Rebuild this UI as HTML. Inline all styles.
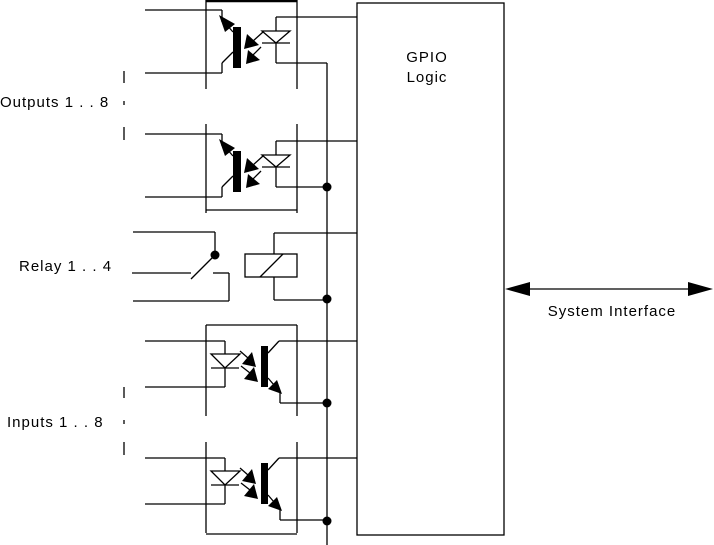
<!DOCTYPE html>
<html><head><meta charset="utf-8"><style>
html,body{margin:0;padding:0;background:#fff;}
svg{display:block;}
text{font-family:"Liberation Sans",Arial,sans-serif;font-size:15px;letter-spacing:1px;fill:#000;}
</style></head><body>
<svg width="714" height="545" viewBox="0 0 714 545" xmlns="http://www.w3.org/2000/svg">
<defs>
<g id="outp" fill="none" stroke="#000" stroke-width="1.3">
  <line x1="145" y1="10" x2="222" y2="10"/>
  <line x1="222" y1="10" x2="222" y2="22"/>
  <line x1="226" y1="24" x2="233" y2="32"/>
  <polygon points="219,15 235,24 225,32" fill="#000" stroke="none"/>
  <line x1="233" y1="52" x2="222" y2="63"/>
  <line x1="222" y1="63" x2="222" y2="73"/>
  <line x1="145" y1="73" x2="222" y2="73"/>
  <rect x="233" y="27" width="8" height="41" fill="#000" stroke="none"/>
  <line x1="263" y1="32" x2="252" y2="42"/>
  <polygon points="244,49 247,34 259,45" fill="#000" stroke="none"/>
  <line x1="261" y1="47" x2="252" y2="56"/>
  <polygon points="246,64 248,50 260,60" fill="#000" stroke="none"/>
  <polygon points="262,31 290,31 276,43"/>
  <line x1="262" y1="43" x2="290" y2="43"/>
  <line x1="276" y1="17" x2="276" y2="31"/>
  <line x1="276" y1="43" x2="276" y2="63"/>
  <line x1="276" y1="17" x2="357" y2="17"/>
  <line x1="276" y1="63" x2="327" y2="63"/>
  <line x1="206" y1="0" x2="206" y2="89"/>
  <line x1="297" y1="0" x2="297" y2="89"/>
</g>
<g id="inp" fill="none" stroke="#000" stroke-width="1.3">
  <line x1="145" y1="341" x2="225" y2="341"/>
  <line x1="225" y1="341" x2="225" y2="354"/>
  <polygon points="211,354 240,354 225,368"/>
  <line x1="211" y1="368" x2="239" y2="368"/>
  <line x1="225" y1="368" x2="225" y2="387"/>
  <line x1="145" y1="387" x2="225" y2="387"/>
  <line x1="240" y1="351" x2="248" y2="358"/>
  <polygon points="256,367 242,364 252,352" fill="#000" stroke="none"/>
  <line x1="241" y1="366" x2="250" y2="373"/>
  <polygon points="258,382 244,379 254,367" fill="#000" stroke="none"/>
  <rect x="261" y="346" width="7" height="41" fill="#000" stroke="none"/>
  <line x1="268" y1="353" x2="279" y2="341"/>
  <line x1="279" y1="341" x2="357" y2="341"/>
  <line x1="268" y1="378" x2="274" y2="385"/>
  <polygon points="282,394 268,389 277,380" fill="#000" stroke="none"/>
  <line x1="280" y1="392" x2="280" y2="403"/>
  <line x1="280" y1="403" x2="327" y2="403"/>
  <line x1="206" y1="325" x2="206" y2="416"/>
  <line x1="297" y1="325" x2="297" y2="416"/>
</g>
</defs>
<g fill="none" stroke="#000" stroke-width="1.3">
  <line x1="206" y1="1" x2="297" y2="1" stroke-width="2.5"/>
  <line x1="206" y1="210" x2="297" y2="210"/>
  <line x1="206" y1="325" x2="297" y2="325"/>
  <line x1="206" y1="534" x2="297" y2="534"/>
  <rect x="357" y="3" width="147" height="532"/>
  <line x1="327" y1="63" x2="327" y2="545"/>
  <line x1="133" y1="232" x2="215" y2="232"/>
  <line x1="215" y1="232" x2="215" y2="255"/>
  <line x1="215" y1="255" x2="191" y2="279"/>
  <line x1="132" y1="273" x2="191" y2="273"/>
  <line x1="213" y1="273" x2="229" y2="273"/>
  <line x1="229" y1="273" x2="229" y2="301"/>
  <line x1="229" y1="301" x2="133" y2="301"/>
  <rect x="245" y="254" width="52" height="23"/>
  <line x1="260" y1="277" x2="283" y2="254"/>
  <line x1="274" y1="233" x2="274" y2="254"/>
  <line x1="274" y1="233" x2="357" y2="233"/>
  <line x1="274" y1="277" x2="274" y2="300"/>
  <line x1="274" y1="300" x2="327" y2="300"/>
  <line x1="124" y1="71" x2="124" y2="83"/>
  <line x1="124" y1="101" x2="124" y2="105"/>
  <line x1="124" y1="127" x2="124" y2="140"/>
  <line x1="124" y1="387" x2="124" y2="398"/>
  <line x1="124" y1="420" x2="124" y2="424"/>
  <line x1="124" y1="442" x2="124" y2="455"/>
  <line x1="520" y1="289" x2="700" y2="289"/>
</g>
<polygon points="505,289 530,282 530,296" fill="#000"/>
<polygon points="713,289 688,282 688,296" fill="#000"/>
<use href="#outp"/>
<use href="#outp" transform="translate(0,124)"/>
<use href="#inp"/>
<use href="#inp" transform="translate(0,117)"/>
<g fill="#000">
  <circle cx="327" cy="187" r="4.5"/>
  <circle cx="215" cy="255" r="4.5"/>
  <circle cx="327" cy="299" r="4.5"/>
  <circle cx="327" cy="403" r="4.5"/>
  <circle cx="327" cy="521" r="4.5"/>
</g>
<text x="427" y="62" text-anchor="middle">GPIO</text>
<text x="427" y="82" text-anchor="middle">Logic</text>
<text x="0" y="107">Outputs 1 . . 8</text>
<text x="19" y="271">Relay 1 . . 4</text>
<text x="7" y="427">Inputs 1 . . 8</text>
<text x="612" y="316" text-anchor="middle">System Interface</text>
</svg>
</body></html>
